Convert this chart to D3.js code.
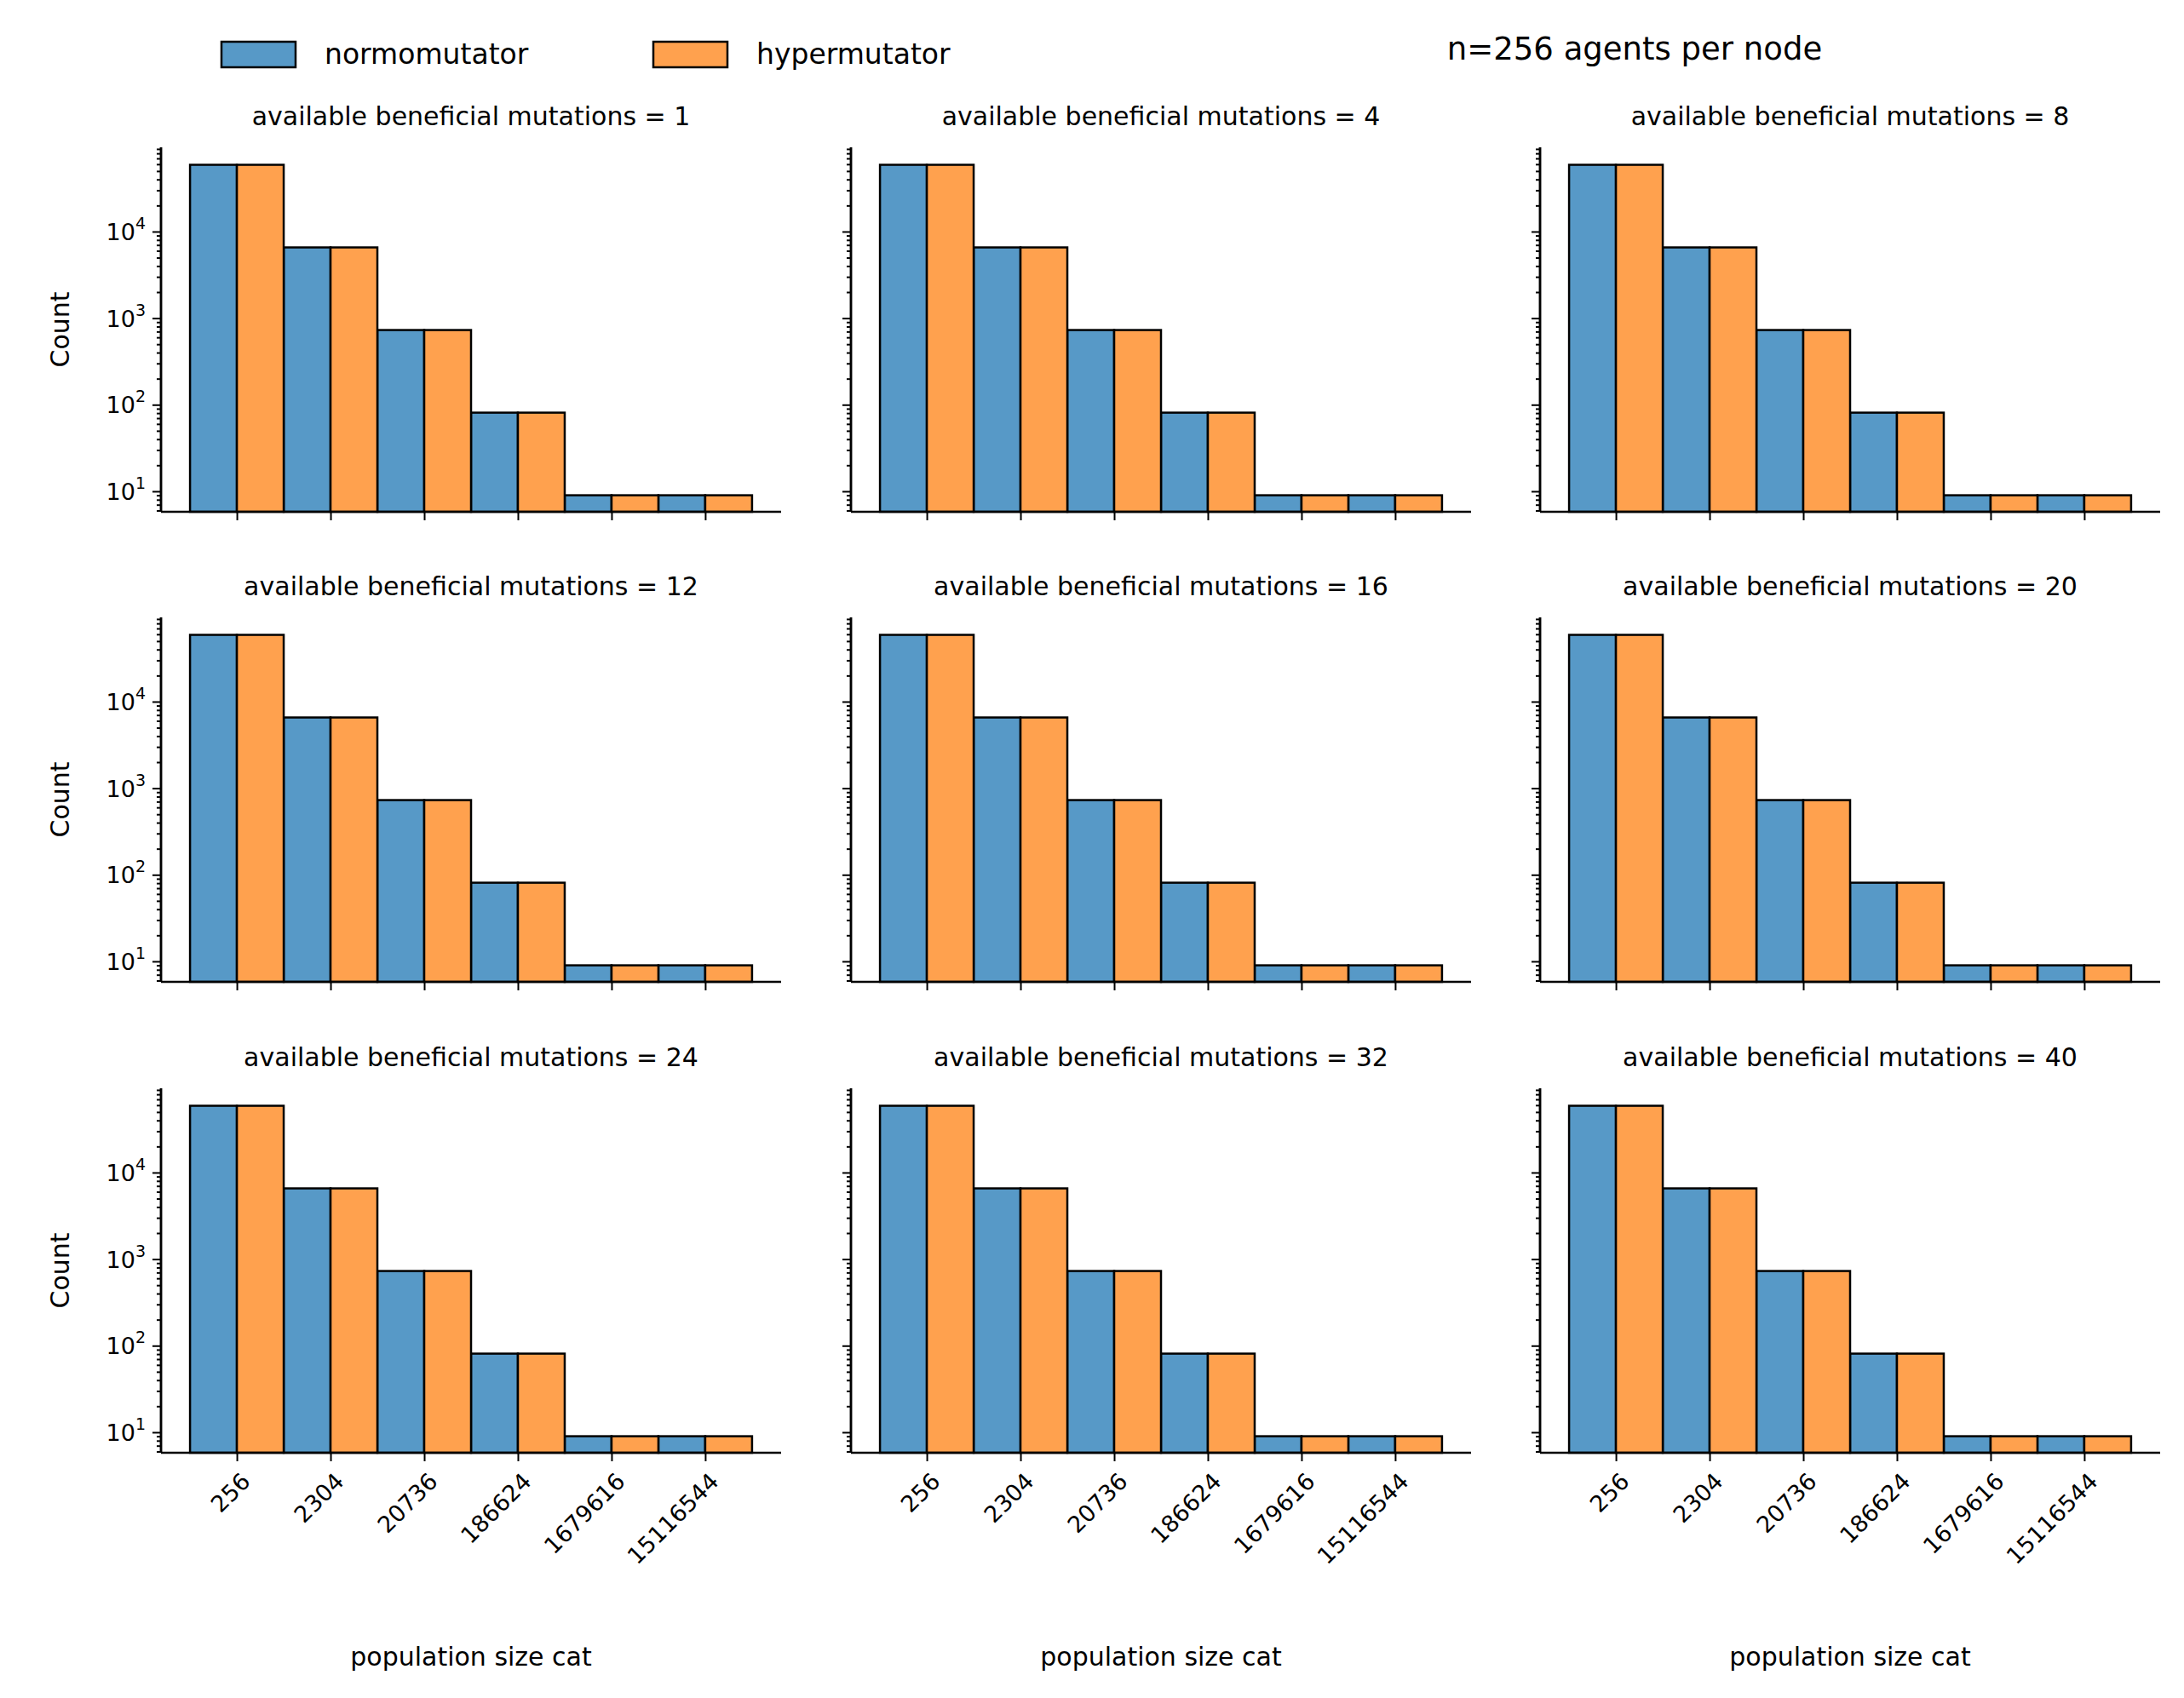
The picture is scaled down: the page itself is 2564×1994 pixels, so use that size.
<!DOCTYPE html>
<html><head><meta charset="utf-8">
<script src="https://cdn.jsdelivr.net/npm/d3@7"></script>
<style>body{margin:0;background:#fff}text{font-family:"DejaVu Sans",sans-serif}</style>
</head><body><svg id="c" width="2564" height="1994"></svg>
<script>
const categories = ['256', '2304', '20736', '186624', '1679616', '15116544']
const mutations = [1, 4, 8, 12, 16, 20, 24, 32, 40]
const normoCounts = [59049, 6561, 729, 81, 9, 9]
const hyperCounts = [59049, 6561, 729, 81, 9, 9]
const series = [
  {name: 'normomutator', color: '#5799c7', values: normoCounts, off: -0.5},
  {name: 'hypermutator', color: '#ffa14e', values: hyperCounts, off: 0}
]

const svg = d3.select('#c')
const colLeft = [189, 999, 1808], rowTop = [173, 725, 1278]
const w = 728, h = 428
const x = d3.scaleLinear().domain([-0.81, 5.81]).range([0, w])
const y = d3.scaleLog().domain([5.8, 94000]).range([h, 0])
const sw = 2.5

mutations.forEach((m, k) => {
  const r = Math.floor(k / 3), c = k % 3
  const g = svg.append('g').attr('transform', `translate(${colLeft[c]},${rowTop[r]})`)
  g.append('text').attr('x', w / 2).attr('y', -26).attr('text-anchor', 'middle')
    .attr('font-size', 30).text(`available beneficial mutations = ${m}`)
  series.forEach(s => {
    g.selectAll(null).data(s.values).join('rect')
      .attr('x', (d, i) => x(i + s.off)).attr('width', x(0.5) - x(0))
      .attr('y', d => y(d)).attr('height', d => h - y(d))
      .attr('fill', s.color).attr('stroke', '#000').attr('stroke-width', sw)
  })
  // y axis
  const ya = g.append('g').call(d3.axisLeft(y).tickValues([10, 100, 1000, 10000])
    .tickSize(10).tickFormat(c === 0 ? (d => '') : () => ''))
  const minors = []
  for (let e = 0; e < 5; e++) for (let j = 2; j <= 9; j++) { const v = j * Math.pow(10, e); if (v >= 5.8 && v <= 94000) minors.push(v) }
  g.append('g').call(d3.axisLeft(y).tickValues(minors).tickSize(5).tickFormat(''))
  if (c === 0) {
    [1, 2, 3, 4].forEach(e => {
      const t = g.append('text').attr('x', -18).attr('y', y(Math.pow(10, e)) + 10)
        .attr('text-anchor', 'end').attr('font-size', 27)
      t.append('tspan').text('10')
      t.append('tspan').attr('dy', -13).attr('font-size', 19).text(e)
    })
    g.append('text').attr('transform', `translate(-108,${h / 2}) rotate(-90)`)
      .attr('text-anchor', 'middle').attr('font-size', 30).text('Count')
  }
  const xa = g.append('g').attr('transform', `translate(0,${h})`)
    .call(d3.axisBottom(x).tickValues(d3.range(categories.length)).tickSize(10).tickFormat(''))
  if (r === 2) {
    categories.forEach((cat, i) => {
      g.append('text').attr('transform', `translate(${x(i) + 4},${h + 22}) rotate(-45)`)
        .attr('text-anchor', 'end').attr('dy', '0.7em').attr('font-size', 27).text(cat)
    })
    g.append('text').attr('x', w / 2).attr('y', h + 250).attr('text-anchor', 'middle')
      .attr('font-size', 30).text('population size cat')
  }
  g.selectAll('.domain').attr('stroke-width', sw)
  g.selectAll('.tick line').attr('stroke-width', 2)
  xa.select('.domain').attr('d', `M0,0H${w}`)
  g.selectAll('.domain').filter(function () { return this.parentNode !== xa.node() })
    .attr('d', `M0,${h}V0`)
})

// legend
const lg = svg.append('g')
series.forEach((s, i) => {
  const lx = [260, 767][i]
  lg.append('rect').attr('x', lx).attr('y', 49).attr('width', 87).attr('height', 30)
    .attr('fill', s.color).attr('stroke', '#000').attr('stroke-width', sw)
  lg.append('text').attr('x', lx + 121).attr('y', 75).attr('font-size', 33).text(s.name)
})
svg.append('text').attr('x', 1919).attr('y', 70).attr('text-anchor', 'middle')
  .attr('font-size', 37).text('n=256 agents per node')
</script></body></html>
